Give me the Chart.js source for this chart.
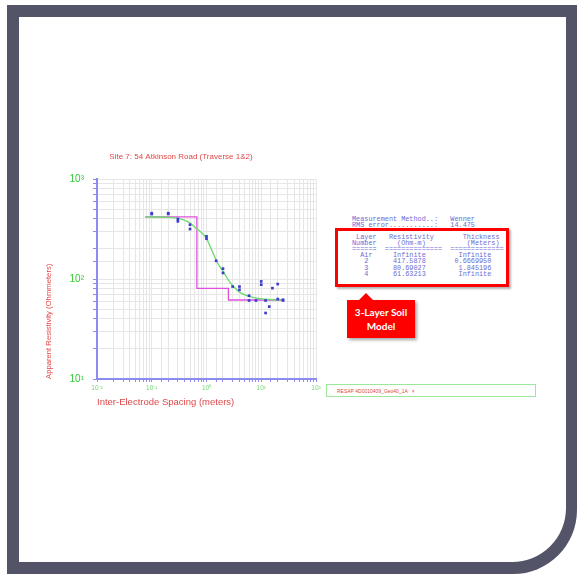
<!DOCTYPE html>
<html>
<head>
<meta charset="utf-8">
<script src="https://cdn.jsdelivr.net/npm/chart.js@4.4.1/dist/chart.umd.min.js"></script>
<style>
html,body{margin:0;padding:0;background:#fff;}
#page{position:relative;width:577px;height:578px;overflow:hidden;background:#fff;}
#outer{position:absolute;left:7px;top:5px;width:570px;height:569px;background:#535468;border-bottom-right-radius:64px;}
#inner{position:absolute;left:19px;top:17px;width:547px;height:545px;background:#fff;border-bottom-right-radius:54px;}
#cv{position:absolute;left:0;top:0;}
#report{position:absolute;left:352px;top:216px;margin:0;font-family:"Liberation Mono",monospace;font-size:6.83px;line-height:6.07px;color:#6c6cd4;white-space:pre;}
#redbox{position:absolute;left:335px;top:228px;width:168px;height:53px;border:3px solid #f00;box-shadow:2px 2px 2px rgba(0,0,0,0.3);}
#callout{position:absolute;left:347px;top:300px;width:68px;height:38px;background:#f00;box-shadow:2px 2px 3px rgba(0,0,0,0.35);color:#fff;font-family:Lato,"Open Sans",sans-serif;font-weight:bold;font-size:10px;line-height:14.3px;text-align:center;display:flex;flex-direction:column;justify-content:center;}
#callout:before{content:"";position:absolute;left:12px;top:-7px;border-left:7px solid transparent;border-right:7px solid transparent;border-bottom:7px solid #f00;}
#filebox{position:absolute;left:326px;top:384px;width:208px;height:11px;border:1px solid #9be89b;}
#filebox span{position:absolute;left:10px;top:3px;font-family:"Liberation Sans",sans-serif;font-size:5px;color:#d84a4a;white-space:pre;}
</style>
</head>
<body>
<div id="page">
  <div id="outer"></div>
  <div id="inner"></div>
  <pre id="report"></pre>
  <div id="redbox"></div>
  <div id="callout"><div>3-Layer Soil</div><div>Model</div></div>
  <div id="filebox"><span id="fname"></span></div>
  <canvas id="cv" width="577" height="578"></canvas>
</div>
<script>
// ---- data ----
const chartTitle = 'Site 7: 54 Atkinson Road (Traverse 1&2)';
const xAxisTitle = 'Inter-Electrode Spacing (meters)';
const yAxisTitle = 'Apparent Resistivity (Ohmmeters)';

// measured apparent resistivity (blue points)
const spacing  = [0.1, 0.1, 0.2, 0.2, 0.3, 0.3, 0.5, 0.5, 1, 1, 1.5, 2, 2, 3, 4, 4, 6, 6, 8, 10, 10, 12, 12, 14, 16, 20, 20, 25, 25];
const measured = [455, 446, 455, 447, 398, 377, 349, 316, 267, 253, 152, 127, 115, 84, 84, 78, 68, 61, 61, 94.6, 87.8, 61, 45.7, 53, 81, 89, 63, 62, 61];

// fitted model curve (green)
const fitX = [0.076, 0.2, 0.3, 0.4, 0.5, 0.67, 0.85, 1.0, 1.2, 1.44, 1.7, 2.0, 2.5, 3.0, 4.0, 6.0, 9.5, 16.6, 25];
const fitY = [417, 413, 404, 386, 363, 316, 284, 255, 204, 163, 136, 120, 98, 86, 74, 67, 63.5, 62, 61.7];

// layered model (magenta step)
const modelX = [0.076, 0.667, 2.512, 25];
const modelY = [417.59, 80.69, 61.63, 61.63];

// tick labels
const xTickLabels = {'-2':'10\u207B\u00B2', '-1':'10\u207B\u00B9', '0':'10\u2070', '1':'10\u00B9', '2':'10\u00B2'};
const yTickLabels = {'1':'10\u00B9', '2':'10\u00B2', '3':'10\u00B3'};

// report table
const measurementMethod = 'Wenner';
const rmsError = '14.475';
const layerNames = ['Air', '2', '3', '4'];
const layerResistivity = ['Infinite', '417.5878', '80.69027', '61.63213'];
const layerThickness = ['Infinite', '0.6669950', '1.845196', 'Infinite'];
const fileName = 'RESAP 4D0010409_Geo40_1A   \u00D7';

// ---- report text ----
function put(line, col, s){ while(line.length<col) line+=' '; return line + s; }
const lines = [];
lines.push(put('Measurement Method..:', 24, measurementMethod));
lines.push(put('RMS error...........:', 24, rmsError));
lines.push('');
lines.push(put(put(put('', 1, 'Layer'), 9, 'Resistivity'), 27, 'Thickness'));
lines.push(put(put(put('', 0, 'Number'), 11, '(Ohm-m)'), 28, '(Meters)'));
lines.push(put(put(put('', 0, '======'), 8, '=============='), 24, '============='));
for (let i=0;i<layerNames.length;i++){
  const nc = layerNames[i].length>1 ? 2 : 3;
  const tc = layerThickness[i].length>8 ? 25 : 26;
  lines.push(put(put(put('', nc, layerNames[i]), 10, layerResistivity[i]), tc, layerThickness[i]));
}
document.getElementById('report').textContent = lines.join('\n');
document.getElementById('fname').textContent = fileName;

// ---- chart ----
const pts = spacing.map((x,i)=>({x, y: measured[i]}));
const fit = fitX.map((x,i)=>({x, y: fitY[i]}));
const model = modelX.map((x,i)=>({x, y: modelY[i]}));

function expLabel(map){
  return function(v){
    const e = Math.log10(v);
    const r = Math.round(e);
    if (Math.abs(e-r) < 1e-6 && map[String(r)] !== undefined) return map[String(r)];
    return '';
  };
}

const axisBlue = '#8c8cf0';
const gridGrey = '#e6e6e6';

new Chart(document.getElementById('cv'), {
  type: 'scatter',
  data: {
    datasets: [
      {data: pts, pointStyle:'rect', pointRadius:1.9, backgroundColor:'#3d3dcc', borderColor:'#3d3dcc', borderWidth:0, showLine:false},
      {data: fit, showLine:true, borderColor:'#6fdc6f', borderWidth:1.4, pointRadius:0, cubicInterpolationMode:'monotone'},
      {data: model, showLine:true, borderColor:'#e050e0', borderWidth:1.3, pointRadius:0, stepped:true}
    ]
  },
  options: {
    responsive:false,
    animation:false,
    events:[],
    layout:{padding:{left:46, right:261, top:140, bottom:160}},
    plugins:{
      legend:{display:false},
      tooltip:{enabled:false},
      title:{display:true, text:chartTitle, color:'#e04848', font:{family:'Liberation Sans', size:8, weight:'normal', lineHeight:1.2}, padding:{top:12, bottom:17.4}}
    },
    scales:{
      x:{
        type:'logarithmic', min:0.01, max:100, position:'bottom',
        afterFit:(s)=>{ s.height = 39; },
        border:{color:axisBlue, width:2},
        grid:{color:gridGrey, lineWidth:1, tickColor:axisBlue, tickLength:3},
        ticks:{autoSkip:false, maxRotation:0, minRotation:0, color:'#74d874', font:{family:'Liberation Sans', size:6.5}, padding:2, callback:expLabel(xTickLabels)},
        title:{display:true, text:xAxisTitle, align:'start', color:'#e04848', font:{family:'Liberation Sans', size:9.5, lineHeight:1.2}, padding:{top:0, bottom:10}}
      },
      y:{
        type:'logarithmic', min:10, max:1000, position:'left',
        afterFit:(s)=>{ s.width = 51; },
        border:{color:axisBlue, width:2},
        grid:{color:gridGrey, lineWidth:1, tickColor:axisBlue, tickLength:4},
        ticks:{autoSkip:false, color:'#33cc33', font:{family:'Liberation Sans', size:10}, padding:9, callback:expLabel(yTickLabels)},
        title:{display:true, text:yAxisTitle, align:'start', color:'#e04848', font:{family:'Liberation Sans', size:7.7, lineHeight:1}, padding:{top:-1, bottom:0}}
      }
    }
  }
});
</script>
</body>
</html>
